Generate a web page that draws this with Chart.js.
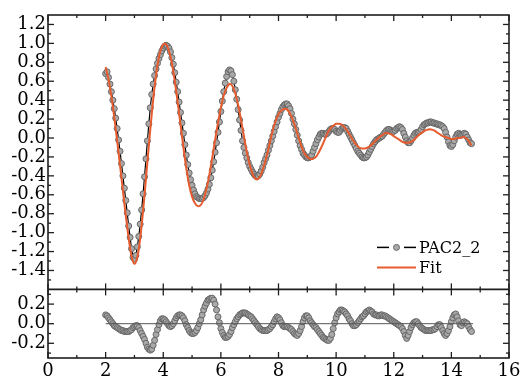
<!DOCTYPE html>
<html>
<head>
<meta charset="utf-8">
<script src="https://cdn.jsdelivr.net/npm/chart.js@4.4.0/dist/chart.umd.min.js"></script>
<style>
  html, body { margin: 0; padding: 0; background: #fff; }
  #exafs-chart { display: block; }
</style>
</head>
<body>
<canvas id="exafs-chart" width="524" height="382"></canvas>
<script>
// k grid of the measured spectrum (same grid for the residual)
const kStart = 2.0;
const kStep = 0.05;
const fitStep = 0.1;

// PAC2_2, k = 2.00 ... 14.70
const pacValues = [
  0.68, 0.70, 0.64, 0.57, 0.49, 0.40, 0.31, 0.21, 0.10, -0.02, -0.14, -0.27, -0.40, -0.53, -0.66, -0.79, -0.93, -1.05, -1.17, -1.26,
  -1.28, -1.24, -1.15, -1.04, -0.91, -0.76, -0.59, -0.41, -0.22, -0.03, 0.15, 0.32, 0.46, 0.57, 0.66, 0.73, 0.79, 0.84, 0.88, 0.92,
  0.95, 0.97, 0.98, 0.97, 0.95, 0.91, 0.85, 0.78, 0.69, 0.59, 0.49, 0.38, 0.27, 0.16, 0.05, -0.07, -0.18, -0.28, -0.37, -0.44,
  -0.50, -0.55, -0.59, -0.62, -0.63, -0.64, -0.64, -0.64, -0.63, -0.61, -0.58, -0.54, -0.49, -0.42, -0.34, -0.25, -0.15, -0.05, 0.06, 0.17,
  0.28, 0.39, 0.49, 0.58, 0.65, 0.70, 0.72, 0.71, 0.67, 0.60, 0.51, 0.41, 0.30, 0.19, 0.08, -0.03, -0.10, -0.16, -0.21, -0.26,
  -0.30, -0.33, -0.36, -0.38, -0.40, -0.41, -0.40, -0.38, -0.35, -0.31, -0.26, -0.22, -0.18, -0.13, -0.08, -0.03, 0.02, 0.07, 0.12, 0.17,
  0.22, 0.26, 0.30, 0.33, 0.35, 0.36, 0.36, 0.34, 0.31, 0.26, 0.20, 0.15, 0.09, 0.03, -0.03, -0.08, -0.12, -0.16, -0.18, -0.20,
  -0.21, -0.21, -0.20, -0.18, -0.14, -0.10, -0.06, -0.02, 0.01, 0.04, 0.05, 0.05, 0.04, 0.04, 0.05, 0.07, 0.09, 0.10, 0.10, 0.09,
  0.07, 0.06, 0.06, 0.08, 0.10, 0.11, 0.11, 0.10, 0.07, 0.04, 0.01, -0.02, -0.05, -0.08, -0.11, -0.14, -0.16, -0.18, -0.20, -0.21,
  -0.21, -0.20, -0.18, -0.15, -0.12, -0.09, -0.06, -0.04, -0.02, -0.01, 0.00, 0.01, 0.02, 0.04, 0.06, 0.08, 0.09, 0.09, 0.08, 0.07,
  0.07, 0.08, 0.10, 0.11, 0.12, 0.11, 0.09, 0.05, 0.01, -0.03, -0.05, -0.05, -0.03, 0.00, 0.03, 0.05, 0.06, 0.06, 0.07, 0.09,
  0.12, 0.14, 0.15, 0.16, 0.16, 0.17, 0.17, 0.16, 0.16, 0.15, 0.15, 0.14, 0.14, 0.13, 0.12, 0.10, 0.06, 0.01, -0.04, -0.08,
  -0.09, -0.07, -0.03, 0.01, 0.04, 0.05, 0.04, 0.03, 0.04, 0.05, 0.04, 0.01, -0.02, -0.05, -0.06
];

// Fit, k = 2.0 ... 14.7
const fitValues = [
  0.75, 0.62, 0.44, 0.22, -0.03, -0.29, -0.56, -0.82, -1.06, -1.25,
  -1.33, -1.26, -1.06, -0.77, -0.43, -0.08, 0.25, 0.54, 0.77, 0.92,
  0.99, 0.99, 0.92, 0.79, 0.60, 0.38, 0.14, -0.10, -0.32, -0.50,
  -0.62, -0.69, -0.72, -0.71, -0.65, -0.54, -0.39, -0.21, -0.02, 0.16,
  0.32, 0.45, 0.53, 0.57, 0.55, 0.47, 0.35, 0.19, 0.02, -0.15,
  -0.28, -0.38, -0.43, -0.43, -0.38, -0.29, -0.18, -0.05, 0.08, 0.18,
  0.25, 0.29, 0.31, 0.30, 0.26, 0.19, 0.10, 0.00, -0.09, -0.16,
  -0.20, -0.22, -0.22, -0.20, -0.15, -0.09, -0.02, 0.05, 0.10, 0.13,
  0.15, 0.15, 0.14, 0.11, 0.07, 0.02, -0.03, -0.07, -0.10, -0.11,
  -0.11, -0.10, -0.08, -0.05, -0.02, 0.01, 0.03, 0.05, 0.05, 0.04,
  0.02, 0.00, -0.02, -0.04, -0.05, -0.05, -0.04, -0.02, 0.01, 0.04,
  0.06, 0.08, 0.09, 0.09, 0.08, 0.06, 0.04, 0.02, 0.01, 0.00,
  -0.01, -0.01, 0.00, 0.00, 0.01, 0.00, -0.03, -0.08
];

// residual panel, k = 2.00 ... 14.70
const residualValues = [
  0.09, 0.08, 0.06, 0.04, 0.02, 0.00, -0.02, -0.03, -0.04, -0.05, -0.06, -0.07, -0.07, -0.08, -0.08, -0.08, -0.08, -0.07, -0.06, -0.04,
  -0.03, -0.02, -0.02, -0.04, -0.07, -0.10, -0.13, -0.16, -0.20, -0.24, -0.26, -0.27, -0.26, -0.22, -0.17, -0.11, -0.06, -0.01, 0.03, 0.05,
  0.05, 0.04, 0.02, 0.00, -0.02, -0.03, -0.02, 0.00, 0.03, 0.06, 0.08, 0.09, 0.09, 0.08, 0.06, 0.03, -0.01, -0.04, -0.07, -0.09,
  -0.10, -0.10, -0.09, -0.07, -0.04, 0.00, 0.04, 0.09, 0.14, 0.18, 0.21, 0.24, 0.25, 0.26, 0.26, 0.24, 0.20, 0.14, 0.07, 0.01,
  -0.05, -0.09, -0.12, -0.14, -0.14, -0.13, -0.11, -0.08, -0.04, -0.01, 0.02, 0.05, 0.07, 0.09, 0.10, 0.11, 0.11, 0.11, 0.10, 0.09,
  0.08, 0.07, 0.05, 0.03, 0.01, -0.01, -0.03, -0.05, -0.06, -0.07, -0.07, -0.07, -0.07, -0.06, -0.05, -0.03, -0.01, 0.02, 0.05, 0.07,
  0.06, 0.04, 0.01, -0.02, -0.03, -0.03, -0.03, -0.04, -0.05, -0.06, -0.08, -0.10, -0.11, -0.12, -0.10, -0.07, -0.03, 0.02, 0.06, 0.08,
  0.08, 0.06, 0.03, 0.01, -0.01, -0.03, -0.04, -0.06, -0.08, -0.10, -0.12, -0.14, -0.15, -0.16, -0.17, -0.17, -0.15, -0.11, -0.05, 0.01,
  0.06, 0.10, 0.12, 0.14, 0.14, 0.13, 0.12, 0.10, 0.08, 0.05, 0.03, 0.00, -0.02, -0.02, -0.01, 0.01, 0.03, 0.05, 0.07, 0.08,
  0.10, 0.12, 0.13, 0.14, 0.13, 0.12, 0.10, 0.09, 0.09, 0.08, 0.08, 0.09, 0.09, 0.08, 0.08, 0.07, 0.06, 0.05, 0.04, 0.03,
  0.02, 0.01, 0.00, -0.01, -0.02, -0.03, -0.05, -0.08, -0.12, -0.15, -0.12, -0.08, -0.04, -0.01, 0.01, 0.02, 0.02, 0.00, -0.02, -0.04,
  -0.05, -0.06, -0.07, -0.07, -0.07, -0.07, -0.07, -0.06, -0.06, -0.05, -0.03, -0.01, -0.01, -0.04, -0.07, -0.10, -0.12, -0.10, -0.07, -0.03,
  0.02, 0.06, 0.09, 0.10, 0.07, 0.03, -0.01, -0.02, 0.01, 0.02, 0.01, 0.00, -0.03, -0.06, -0.08
];

const zeroLineK = [2.0, 14.75];

const xTicks = [0, 2, 4, 6, 8, 10, 12, 14, 16];
const yTicks = [-1.4, -1.2, -1.0, -0.8, -0.6, -0.4, -0.2, 0.0, 0.2, 0.4, 0.6, 0.8, 1.0, 1.2];
const residualTicks = [-0.2, 0.0, 0.2];

const seriesNames = ['PAC2_2', 'Fit'];

const toPoints = (values, step) =>
  values.map((v, i) => ({ x: Math.round((kStart + i * step) * 100) / 100, y: v }));

const tickFont = { family: '"DejaVu Serif", serif', size: 18 };
const pointFill = '#a9a9a9';
const pointEdge = '#666666';
const fitColor = '#e65c2e';

// frame, inward ticks and the in-plot legend
const frameAndLegend = {
  id: 'frameAndLegend',
  afterDraw(chart) {
    const { ctx, chartArea: a, scales } = chart;
    const x = scales.x, yTop = scales.y, yBot = scales.y2;
    const split = yTop.bottom;
    const seg = (x1, y1, x2, y2) => { ctx.beginPath(); ctx.moveTo(x1, y1); ctx.lineTo(x2, y2); ctx.stroke(); };

    ctx.save();
    ctx.strokeStyle = '#1e1e1e';
    ctx.lineWidth = 1.6;
    ctx.strokeRect(a.left, a.top, a.right - a.left, a.bottom - a.top);
    seg(a.left, split, a.right, split);

    ctx.lineWidth = 1.3;
    for (let v = 0; v <= 16; v++) {
      const px = x.getPixelForValue(v);
      const len = v % 2 === 0 ? 6 : 3;
      seg(px, a.top, px, a.top + len);
      seg(px, split - len, px, split + len);
      seg(px, a.bottom, px, a.bottom - len);
    }
    for (let i = -15; i <= 12; i++) {
      const py = yTop.getPixelForValue(i / 10);
      const len = i % 2 === 0 ? 6 : 3;
      seg(a.left, py, a.left + len, py);
      seg(a.right, py, a.right - len, py);
    }
    for (let i = -3; i <= 3; i++) {
      const py = yBot.getPixelForValue(i / 10);
      const len = i % 2 === 0 ? 6 : 3;
      seg(a.left, py, a.left + len, py);
      seg(a.right, py, a.right - len, py);
    }

    // legend
    const lx = a.right - 132;
    const row1 = split - 42;
    const row2 = split - 22;
    ctx.strokeStyle = '#000';
    ctx.lineWidth = 1.5;
    seg(lx, row1, lx + 12, row1);
    seg(lx + 27, row1, lx + 39, row1);
    ctx.beginPath();
    ctx.arc(lx + 19.5, row1, 3, 0, Math.PI * 2);
    ctx.fillStyle = pointFill;
    ctx.fill();
    ctx.strokeStyle = pointEdge;
    ctx.lineWidth = 1;
    ctx.stroke();
    ctx.strokeStyle = fitColor;
    ctx.lineWidth = 2;
    seg(lx, row2, lx + 39, row2);

    ctx.fillStyle = '#000';
    ctx.font = '16px "DejaVu Serif", serif';
    ctx.textBaseline = 'middle';
    ctx.textAlign = 'left';
    ctx.fillText(seriesNames[0], lx + 42, row1 + 1);
    ctx.fillText(seriesNames[1], lx + 42, row2 + 1);
    ctx.restore();
  }
};

const noGrid = { display: false, drawTicks: false };

const ctx = document.getElementById('exafs-chart').getContext('2d');
const chart = new Chart(ctx, {
  type: 'line',
  data: {
    datasets: [
      {
        label: 'zero',
        data: zeroLineK.map((k) => ({ x: k, y: 0 })),
        yAxisID: 'y2',
        borderColor: '#555555',
        borderWidth: 1,
        pointRadius: 0,
        order: 0,
      },
      {
        label: seriesNames[1],
        data: toPoints(fitValues, fitStep),
        yAxisID: 'y',
        borderColor: fitColor,
        borderWidth: 2,
        pointRadius: 0,
        tension: 0.35,
        order: 1,
      },
      {
        label: seriesNames[0],
        data: toPoints(pacValues, kStep),
        yAxisID: 'y',
        borderColor: '#000000',
        borderWidth: 1.2,
        pointRadius: 3,
        pointBackgroundColor: pointFill,
        pointBorderColor: pointEdge,
        pointBorderWidth: 1,
        order: 2,
      },
      {
        label: 'residual',
        data: toPoints(residualValues, kStep),
        yAxisID: 'y2',
        showLine: false,
        pointRadius: 3,
        pointBackgroundColor: pointFill,
        pointBorderColor: pointEdge,
        pointBorderWidth: 1,
        order: 3,
      },
    ],
  },
  options: {
    responsive: false,
    animation: false,
    layout: { padding: { top: 15, right: 15, left: 0, bottom: 0 } },
    plugins: {
      legend: { display: false },
      tooltip: { enabled: false },
    },
    scales: {
      x: {
        type: 'linear',
        min: 0,
        max: 16,
        grid: noGrid,
        border: { display: false },
        afterBuildTicks: (s) => { s.ticks = xTicks.map((v) => ({ value: v })); },
        afterFit: (s) => { s.height = 24; },
        ticks: { color: '#000', font: tickFont, padding: 3, maxRotation: 0, autoSkip: false },
      },
      y2: {
        type: 'linear',
        position: 'left',
        stack: 'panels',
        stackWeight: 1,
        min: -0.35,
        max: 0.35,
        grid: noGrid,
        border: { display: false },
        afterBuildTicks: (s) => { s.ticks = residualTicks.map((v) => ({ value: v })); },
        afterFit: (s) => { s.width = 48; },
        ticks: { color: '#000', font: tickFont, padding: 2, autoSkip: false, callback: (v) => v.toFixed(1) },
      },
      y: {
        type: 'linear',
        position: 'left',
        stack: 'panels',
        stackWeight: 4,
        min: -1.6,
        max: 1.3,
        grid: noGrid,
        border: { display: false },
        afterBuildTicks: (s) => { s.ticks = yTicks.map((v) => ({ value: v })); },
        afterFit: (s) => { s.width = 48; },
        ticks: { color: '#000', font: tickFont, padding: 2, autoSkip: false, callback: (v) => v.toFixed(1) },
      },
    },
  },
  plugins: [frameAndLegend],
});
</script>
</body>
</html>
